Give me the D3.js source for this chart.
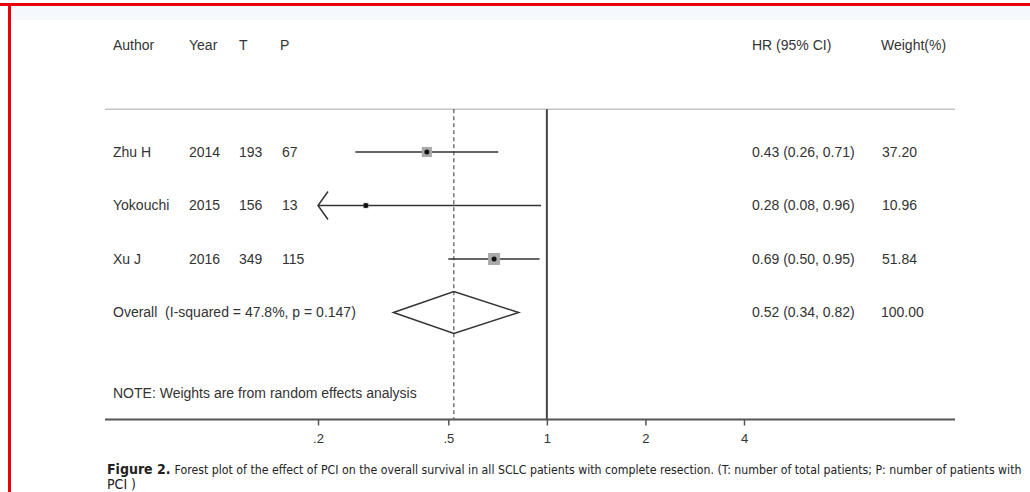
<!DOCTYPE html>
<html>
<head>
<meta charset="utf-8">
<script src="https://cdn.jsdelivr.net/npm/d3@7"></script>
<style>
  body { margin: 0; background: #fff; }
  svg { display: block; }
  .lbl { font-family: "Liberation Sans", Arial, sans-serif; font-size: 14px; fill: #333; }
  .cap { font-family: "Liberation Sans Narrow", "DejaVu Sans Condensed", sans-serif; font-size: 14px; fill: #222; }
</style>
</head>
<body>
<div id="chart"></div>
<script>
// study data
const authors = ["Zhu H", "Yokouchi", "Xu J"];
const years = [2014, 2015, 2016];
const totals = [193, 156, 349];
const pciCounts = [67, 13, 115];
const hr = [0.43, 0.28, 0.69];
const lower = [0.26, 0.08, 0.50];
const upper = [0.71, 0.96, 0.95];
const weights = [37.20, 10.96, 51.84];

// pooled estimate
const overallHr = 0.52;
const overallLower = 0.34;
const overallUpper = 0.82;
const overallWeight = 100;
const overallLabel = "Overall  (I-squared = 47.8%, p = 0.147)";

const tickValues = [0.2, 0.5, 1, 2, 4];
const tickLabels = [".2", ".5", "1", "2", "4"];

function init() {
    const w = 1030;
    const h = 492;

    const svg = d3.select("#chart")
        .append("svg")
        .attr("width", w)
        .attr("height", h);

    // page frame bits
    svg.append("rect").attr("x", 8).attr("y", 6).attr("width", w - 8).attr("height", 14).attr("fill", "#f5f9fd");
    svg.append("rect").attr("x", 0).attr("y", 3).attr("width", w).attr("height", 3).attr("fill", "#e8000b");
    svg.append("rect").attr("x", 8).attr("y", 3).attr("width", 3).attr("height", h).attr("fill", "#e8000b");

    const x = d3.scaleLog().domain([0.2, 4]).range([318, 744]);
    // row positions (header = 0, axis = 7)
    const y = d3.scaleLinear().domain([0, 7]).range([45, 419.5]);
    const left = 105, right = 955;
    const ruleY = y(1.2);
    const axisY = y(7);
    const hrX = 752, wtX = 881;

    // header
    const headers = [["Author", 113], ["Year", 189], ["T", 239], ["P", 280], ["HR (95% CI)", hrX], ["Weight(%)", wtX]];
    svg.selectAll("text.head")
        .data(headers)
        .enter()
        .append("text")
        .attr("class", "lbl head")
        .attr("x", d => d[1])
        .attr("y", y(0))
        .attr("dy", "0.35em")
        .text(d => d[0]);

    svg.append("line")
        .attr("x1", left).attr("x2", right)
        .attr("y1", ruleY).attr("y2", ruleY)
        .attr("stroke", "#c4c4c4").attr("stroke-width", 1.5);

    // reference lines
    svg.append("line")
        .attr("x1", x(1)).attr("x2", x(1))
        .attr("y1", ruleY).attr("y2", axisY)
        .attr("stroke", "#444").attr("stroke-width", 2);

    svg.append("line")
        .attr("x1", x(overallHr)).attr("x2", x(overallHr))
        .attr("y1", ruleY).attr("y2", axisY)
        .attr("stroke", "#333").attr("stroke-width", 1)
        .attr("stroke-dasharray", "4,3");

    // study rows
    const rows = authors.map((a, i) => ({
        author: a, year: years[i], t: totals[i], p: pciCounts[i],
        hr: hr[i], lo: lower[i], hi: upper[i], wt: weights[i], row: i + 2
    }));

    const g = svg.selectAll("g.study")
        .data(rows)
        .enter()
        .append("g")
        .attr("class", "study")
        .attr("transform", d => `translate(0,${y(d.row)})`);

    const cols = [
        [d => d.author, 113], [d => d.year, 189], [d => d.t, 239], [d => d.p, 282],
        [d => `${d.hr.toFixed(2)} (${d.lo.toFixed(2)}, ${d.hi.toFixed(2)})`, hrX],
        [d => d.wt.toFixed(2), wtX + 1]
    ];
    cols.forEach(c => {
        g.append("text")
            .attr("class", "lbl")
            .attr("x", c[1])
            .attr("dy", "0.35em")
            .text(c[0]);
    });

    const xMin = x.domain()[0];
    g.append("line")
        .attr("x1", d => x(Math.max(d.lo, xMin)))
        .attr("x2", d => x(d.hi))
        .attr("stroke", "#333").attr("stroke-width", 1.5);

    // arrow where the interval runs off the scale
    g.filter(d => d.lo < xMin)
        .append("path")
        .attr("d", `M${x(xMin) + 10},-14L${x(xMin)},0L${x(xMin) + 10},14`)
        .attr("fill", "none").attr("stroke", "#333").attr("stroke-width", 1.5);

    const boxSize = d => 1.67 * Math.sqrt(d.wt);
    g.append("rect")
        .attr("x", d => x(d.hr) - boxSize(d) / 2)
        .attr("y", d => -boxSize(d) / 2)
        .attr("width", boxSize)
        .attr("height", boxSize)
        .attr("fill", "#aaa");

    g.append("circle")
        .attr("cx", d => x(d.hr))
        .attr("r", 2.5)
        .attr("fill", "#111");

    // overall row
    const oy = y(5);
    svg.append("text").attr("class", "lbl").attr("x", 113).attr("y", oy).attr("dy", "0.35em")
        .attr("xml:space", "preserve").style("white-space", "pre").text(overallLabel);
    svg.append("text").attr("class", "lbl").attr("x", hrX).attr("y", oy).attr("dy", "0.35em")
        .text(`${overallHr.toFixed(2)} (${overallLower.toFixed(2)}, ${overallUpper.toFixed(2)})`);
    svg.append("text").attr("class", "lbl").attr("x", wtX).attr("y", oy).attr("dy", "0.35em")
        .text(overallWeight.toFixed(2));

    const dh = 21;
    svg.append("path")
        .attr("d", `M${x(overallLower)},${oy}L${x(overallHr)},${oy - dh}L${x(overallUpper)},${oy}L${x(overallHr)},${oy + dh}Z`)
        .attr("fill", "none").attr("stroke", "#333").attr("stroke-width", 1.5);

    svg.append("text").attr("class", "lbl").attr("x", 113).attr("y", y(6.5)).attr("dy", "0.35em")
        .text("NOTE: Weights are from random effects analysis");

    // x axis
    const xAxis = d3.axisBottom(x)
        .tickValues(tickValues)
        .tickFormat((d, i) => tickLabels[i])
        .tickSize(6)
        .tickSizeOuter(0)
        .tickPadding(8);

    const ax = svg.append("g")
        .attr("transform", `translate(0,${axisY})`)
        .call(xAxis);
    ax.select(".domain").remove();
    ax.selectAll(".tick line").attr("stroke", "#555").attr("stroke-width", 1.5);
    ax.selectAll(".tick text")
        .attr("font-family", "Liberation Sans, Arial, sans-serif")
        .attr("font-size", 13)
        .attr("fill", "#333");

    svg.append("line")
        .attr("x1", left).attr("x2", right)
        .attr("y1", axisY).attr("y2", axisY)
        .attr("stroke", "#555").attr("stroke-width", 2);

    // caption: bold label, then the rest sized to fit up to the right edge
    const capLabel = svg.append("text")
        .attr("class", "cap")
        .attr("x", 107)
        .attr("y", 474)
        .attr("font-weight", "bold")
        .text("Figure 2.");
    const restX = 107 + capLabel.node().getComputedTextLength() + 4;
    const capRest = svg.append("text")
        .attr("class", "cap")
        .attr("x", restX)
        .attr("y", 474)
        .text("Forest plot of the effect of PCI on the overall survival in all SCLC patients with complete resection. (T: number of total patients; P: number of patients with");
    const natural = capRest.node().getComputedTextLength();
    const fit = Math.min(14, 14 * (1022 - restX) / natural);
    capRest.style("font-size", fit + "px");
    svg.append("text")
        .attr("class", "cap")
        .attr("x", 107)
        .attr("y", 489)
        .text("PCI )");
}

window.onload = init;
</script>
</body>
</html>
